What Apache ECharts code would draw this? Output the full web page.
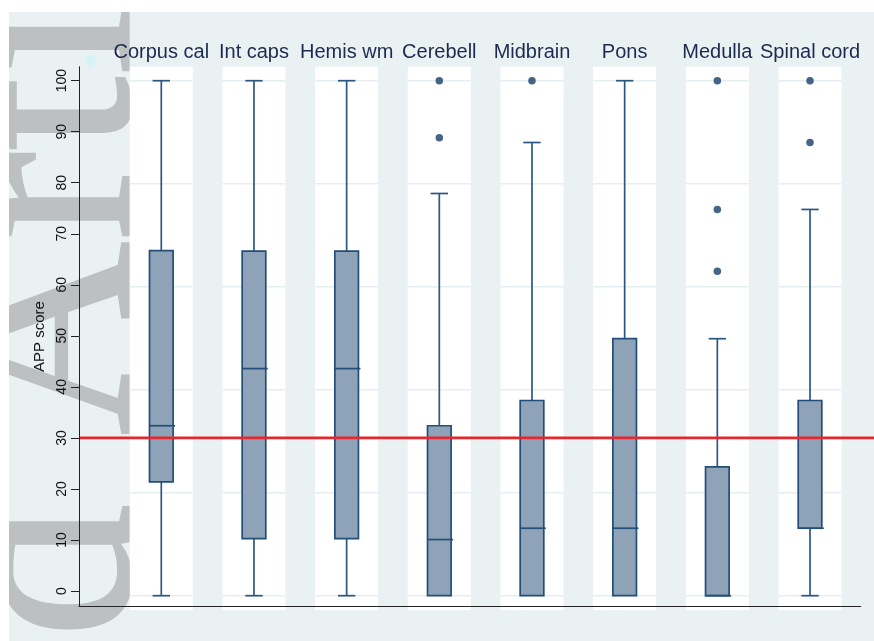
<!DOCTYPE html>
<html><head><meta charset="utf-8">
<script src="https://cdn.jsdelivr.net/npm/echarts@6.0.0/dist/echarts.min.js"></script>
<style>html,body{margin:0;padding:0;background:#fff;}#c{width:874px;height:641px;}</style>
</head><body><div id="c"></div>
<script>
// ---- data ----
const categories = ['Corpus cal','Int caps','Hemis wm','Cerebell','Midbrain','Pons','Medulla','Spinal cord'];
const whiskerLow  = [0, 0, 0, 0, 0, 0, 0, 0];
const q1          = [22.1, 11.1, 11.1, 0, 0, 0, 0, 13.1];
const medians     = [33.0, 44.1, 44.1, 10.9, 13.1, 13.1, 0, 13.1];
const q3          = [67.0, 66.9, 66.9, 33.0, 37.9, 49.9, 25.0, 37.9];
const whiskerHigh = [100, 100, 100, 78.1, 88.0, 100, 49.9, 75.0];
const outlierCat  = [3, 3, 4, 6, 6, 6, 7, 7];
const outlierVal  = [100, 88.9, 100, 100, 75.0, 63.0, 100, 88.0];
const yTicks      = [0, 10, 20, 30, 40, 50, 60, 70, 80, 90, 100];
const panelGrid   = [0, 20, 40, 60, 80, 100];
const threshold   = 30;
const yTitle      = 'APP score';
const watermark   = 'Accepted Article';

// ---- layout / style constants ----
const X_MIN = -0.888, X_MAX = 7.547;
const PANEL_W = 63, BOX_W = 23.6, CAP_W = 17.4;
const BOX_FILL = '#8ea3b7', BOX_LINE = '#224e78', WHISK = '#2b5882';
const WM_SIZE = 270;
const wmFont = WM_SIZE + 'px "Liberation Serif"';
const ctx = document.createElement('canvas').getContext('2d');
ctx.font = wmFont;
const wmLead = ctx.measureText('Accepted ').width;

const boxData = categories.map((c, i) => [i, whiskerLow[i], q1[i], medians[i], q3[i], whiskerHigh[i]]);
const outliers = outlierCat.map((c, k) => [c, outlierVal[k]]);

function renderBox(params, api) {
  const i = api.value(0);
  const cx = api.coord([i, 0])[0];
  const Y = v => api.coord([i, v])[1];
  const lo = api.value(1), b1 = api.value(2), md = api.value(3), b3 = api.value(4), hi = api.value(5);
  const cs = params.coordSys;
  const ch = [];
  ch.push({type: 'rect', shape: {x: cx - PANEL_W / 2, y: cs.y, width: PANEL_W, height: cs.height + 3.7}, style: {fill: '#ffffff'}});
  panelGrid.forEach(g => ch.push({type: 'line', shape: {x1: cx - PANEL_W / 2, y1: Y(g), x2: cx + PANEL_W / 2, y2: Y(g)}, style: {stroke: '#e6eef1', lineWidth: 1.5}}));
  if (hi > b3) {
    ch.push({type: 'line', shape: {x1: cx, y1: Y(b3), x2: cx, y2: Y(hi)}, style: {stroke: WHISK, lineWidth: 1.7}});
    ch.push({type: 'line', shape: {x1: cx - CAP_W / 2, y1: Y(hi), x2: cx + CAP_W / 2, y2: Y(hi)}, style: {stroke: WHISK, lineWidth: 1.7}});
  }
  if (b1 > lo) {
    ch.push({type: 'line', shape: {x1: cx, y1: Y(b1), x2: cx, y2: Y(lo)}, style: {stroke: WHISK, lineWidth: 1.7}});
    ch.push({type: 'line', shape: {x1: cx - CAP_W / 2, y1: Y(lo), x2: cx + CAP_W / 2, y2: Y(lo)}, style: {stroke: WHISK, lineWidth: 1.7}});
  }
  ch.push({type: 'rect', shape: {x: cx - BOX_W / 2, y: Y(b3), width: BOX_W, height: Y(b1) - Y(b3)}, style: {fill: BOX_FILL, stroke: BOX_LINE, lineWidth: 1.7}});
  ch.push({type: 'line', shape: {x1: cx - BOX_W / 2, y1: Y(md), x2: cx + BOX_W / 2 + 2, y2: Y(md)}, style: {stroke: BOX_LINE, lineWidth: 1.7}});
  ch.push({type: 'text', x: cx, y: 52, style: {text: categories[i], font: '20px "Liberation Sans"', fill: '#1c2a4f', align: 'center', verticalAlign: 'middle'}});
  return {type: 'group', children: ch};
}

function renderRef(params, api) {
  const y = api.coord([api.value(0), api.value(1)])[1];
  return {type: 'line', shape: {x1: params.coordSys.x, y1: y, x2: api.getWidth(), y2: y}, style: {stroke: '#e8262d', lineWidth: 2.6}};
}

const chart = echarts.init(document.getElementById('c'), null, {renderer: 'canvas'});
chart.setOption({
  backgroundColor: '#ffffff',
  animation: false,
  graphic: {elements: [
    {type: 'rect', silent: true, z: -20, shape: {x: 9, y: 12, width: 865, height: 629}, style: {fill: '#eaf1f3'}},
    {type: 'text', silent: true, z: -19, x: 139 - 0.3 * WM_SIZE, y: 436 + wmLead, rotation: Math.PI / 2,
      style: {text: watermark, font: wmFont, fill: '#bcc0c2', stroke: '#bcc0c2', lineWidth: 1.5, align: 'left', verticalAlign: 'middle'}},
    {type: 'rect', silent: true, z: -18, shape: {x: 0, y: 0, width: 874, height: 12}, style: {fill: '#ffffff'}},
    {type: 'rect', silent: true, z: -18, shape: {x: 0, y: 0, width: 9, height: 641}, style: {fill: '#ffffff'}},
    {type: 'ellipse', silent: true, z: -17, shape: {cx: 91, cy: 61, rx: 5, ry: 6}, style: {fill: '#d5f2f7'}}
  ]},
  grid: {left: 79, right: 13.3, top: 66.7, bottom: 34.7, containLabel: false, outerBoundsMode: 'none'},
  xAxis: {type: 'value', min: X_MIN, max: X_MAX, z: 10,
    axisLine: {show: true, onZero: false, lineStyle: {color: '#222', width: 1}},
    axisTick: {show: false}, axisLabel: {show: false}, splitLine: {show: false}},
  yAxis: [
    {type: 'value', min: -3.0, max: 102.74, position: 'left', z: 10,
      axisLine: {show: true, onZero: false, lineStyle: {color: '#222', width: 1}},
      axisTick: {show: true, length: 8, customValues: yTicks, lineStyle: {color: '#222', width: 1}},
      axisLabel: {customValues: yTicks, rotate: 90, margin: 10, fontSize: 14, color: '#111', fontFamily: 'Liberation Sans'},
      splitLine: {show: false},
      name: yTitle, nameLocation: 'middle', nameRotate: 90, nameGap: 31,
      nameTextStyle: {fontSize: 15, color: '#111', fontFamily: 'Liberation Sans'}},
    {type: 'value', min: -2.06, max: 102.72, show: false}
  ],
  series: [
    {type: 'custom', name: 'boxes', yAxisIndex: 1, clip: false, z: 2, renderItem: renderBox, data: boxData,
      encode: {x: 0, y: [1, 2, 3, 4, 5]}},
    {type: 'scatter', name: 'outliers', yAxisIndex: 1, z: 4, symbol: 'circle', symbolSize: 7.5,
      itemStyle: {color: '#163f69'}, data: outliers},
    {type: 'custom', name: 'threshold', yAxisIndex: 0, clip: false, z: 6, renderItem: renderRef, data: [[X_MIN, threshold]]}
  ]
});
</script></body></html>
